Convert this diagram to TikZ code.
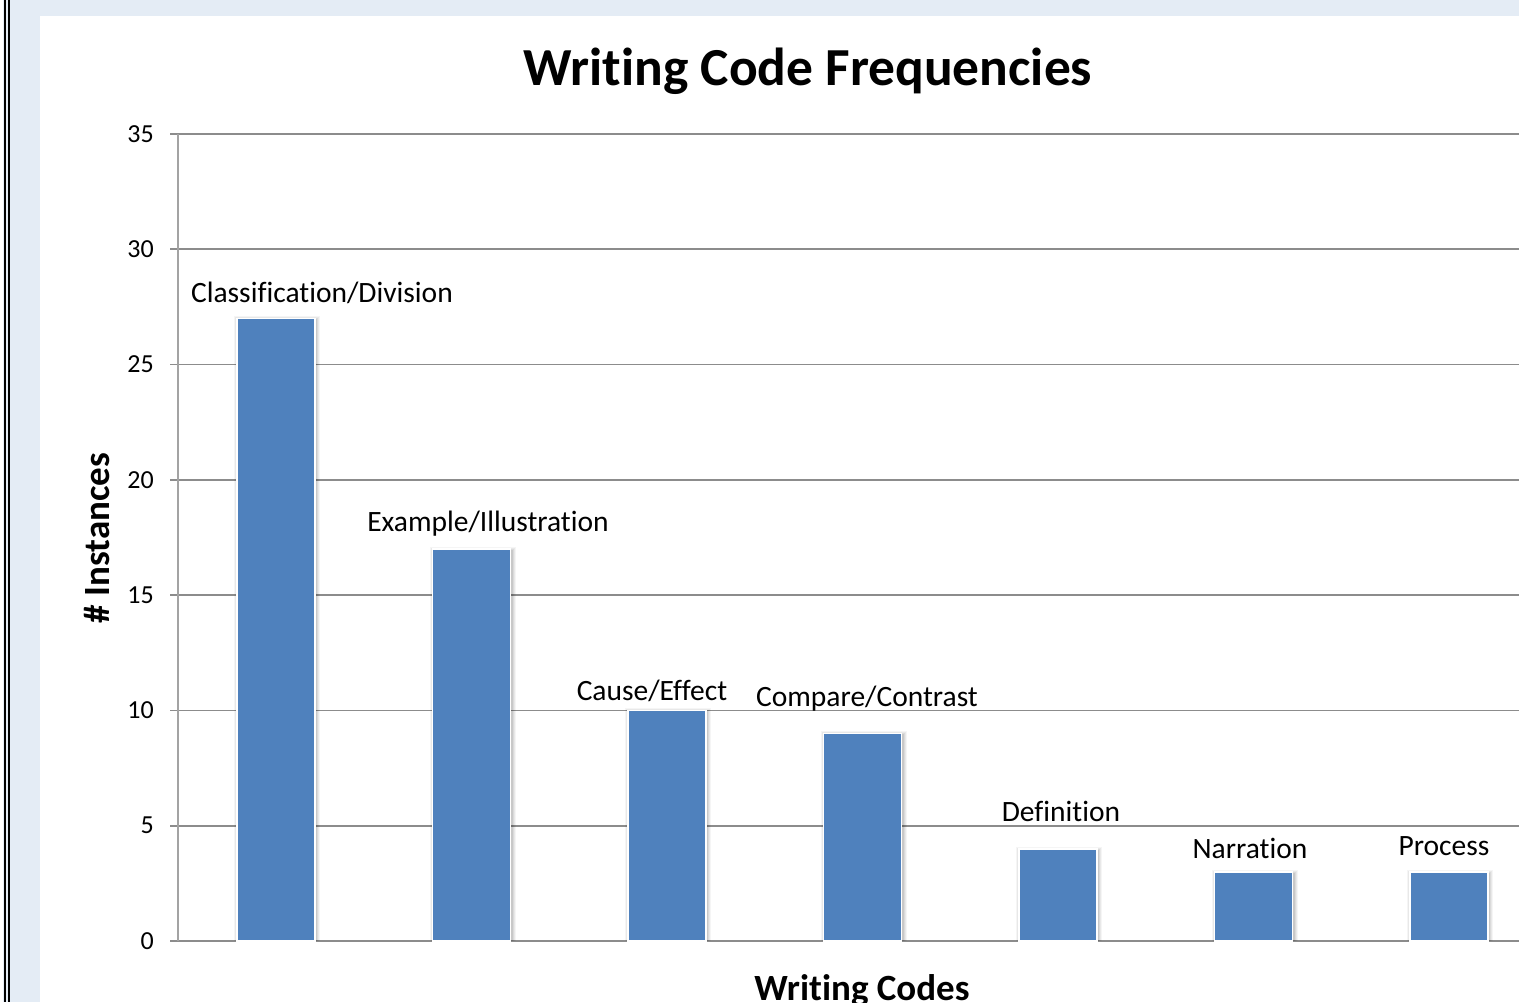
\documentclass[tikz,border=0pt]{standalone}
\usepackage{fontspec}
\setmainfont{Carlito}[Ligatures=NoCommon]
\definecolor{framebg}{HTML}{E4ECF5}
\definecolor{barblue}{HTML}{4F81BD}
\definecolor{gridgray}{HTML}{8C8C8C}
\tikzset{
  gridline/.style={draw=gridgray, line width=1.6pt},
  axisline/.style={draw=gridgray!80, line width=1.6pt},
  ticklabel/.style={anchor=east, font=\fontsize{26}{30}\selectfont, inner sep=0pt},
  datalabel/.style={font=\fontsize{29.5}{34}\selectfont, inner sep=0pt},
  barbox/.style={fill=barblue, draw=white, line width=1.5pt},
  titletext/.style={font=\bfseries\fontsize{53.5}{63}\selectfont, inner sep=0pt},
  axistitle/.style={font=\bfseries\fontsize{37}{44}\selectfont, inner sep=0pt}
}
\begin{document}
\begin{tikzpicture}[x=1pt, y=-1pt]
  \useasboundingbox (0,0) rectangle (1519,1002);
  % page frame and chart area
  \fill[framebg] (0,0) rectangle (1519,1002);
  \fill[white] (40,16) rectangle (1519,1002);
  \fill[white] (0,0) rectangle (3,1002);
  \draw[black, line width=2.2pt] (5,0) -- (5,1002);
  \draw[black, line width=2.2pt] (8.6,0) -- (8.6,1002);

  % title
  \node[titletext] (title) at (808,71) {Writing Code Frequencies};

  % horizontal gridlines, ticks and tick labels
  \foreach \v in {0,5,...,35} {
    \pgfmathsetmacro\yy{941-23.057*\v}
    \draw[gridline] (170,\yy) -- (1519,\yy);
    \node[ticklabel] (tick\v) at (154,\yy) {\v};
  }
  % vertical axis
  \draw[axisline] (178,134) -- (178,941);

  % bars
  \foreach \i/\val in {0/27,1/17,2/10,3/9,4/4,5/3,6/3} {
    \pgfmathsetmacro\xl{237+195.5*\i}
    \pgfmathsetmacro\yt{941-23.057*\val}
    \foreach \s/\o in {4/0.04,3/0.05,2/0.06,1/0.08} {
      \fill[black, opacity=\o] (\xl-\s+1,\yt-\s+2) rectangle (\xl+78+\s+1,941);
    }
    \path[barbox] (\xl,\yt) rectangle (\xl+78,941);
    \coordinate (bar\i) at (\xl+39,\yt);
  }

  % category labels
  \node[datalabel] (lab0) at (322,293) {Classification/Division};
  \node[datalabel] (lab1) at (488,524) {Example/Illustration};
  \node[datalabel] (lab2) at (652,691) {Cause/Effect};
  \node[datalabel] (lab3) at (867,699) {Compare/Contrast};
  \node[datalabel] (lab4) at (1061,811) {Definition};
  \node[datalabel] (lab5) at (1250,848) {Narration};
  \node[datalabel] (lab6) at (1444,846) {Process};

  % axis titles
  \node[axistitle, rotate=90] (ytitle) at (97,538) {\# Instances};
  \node[axistitle, anchor=base] (xtitle) at (862,1000) {Writing Codes};
\end{tikzpicture}
\end{document}
